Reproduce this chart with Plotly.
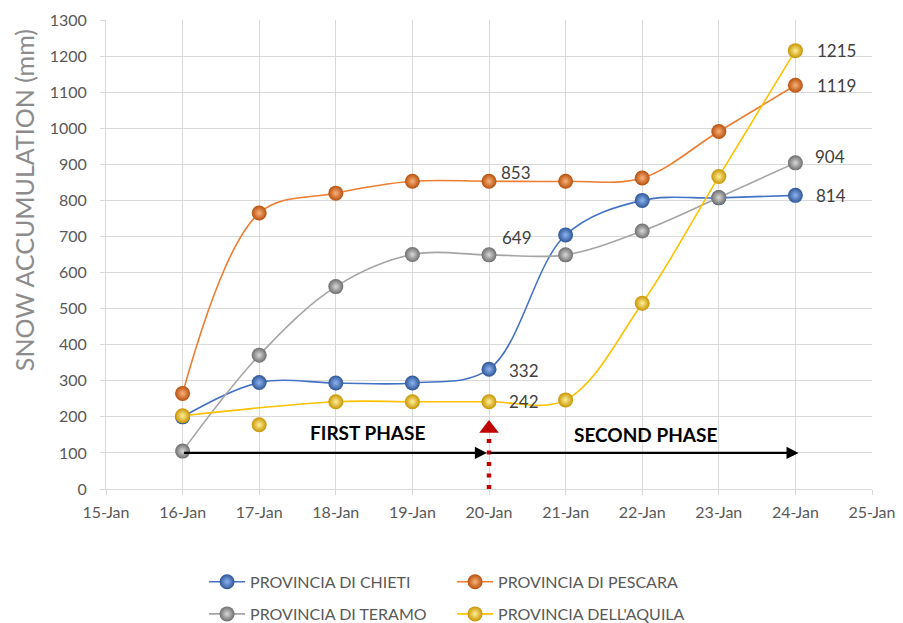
import plotly.graph_objects as go

# Daily snow accumulation (mm) in the four provinces of Abruzzo, January 2017
dates = ["2017-01-16", "2017-01-17", "2017-01-18", "2017-01-19", "2017-01-20",
         "2017-01-21", "2017-01-22", "2017-01-23", "2017-01-24"]
chieti = [200, 295, 294, 294, 332, 704, 800, 807, 814]
pescara = [265, 765, 820, 853, 853, 853, 862, 991, 1119]
teramo = [105, 371, 561, 650, 649, 649, 715, 808, 904]
aquila = [203, 178, 242, 242, 242, 247, 515, 866, 1215]
aquila_off_curve = ["2017-01-17"]  # reading shown as a marker only

series = [
    ("PROVINCIA DI CHIETI", chieti, "#4472C4", "#2E5597", "#8FB4F0", "legend"),
    ("PROVINCIA DI PESCARA", pescara, "#ED7D31", "#B84F0B", "#F8B27C", "legend"),
    ("PROVINCIA DI TERAMO", teramo, "#A5A5A5", "#6E6E6E", "#D8D8D8", "legend2"),
    ("PROVINCIA DELL'AQUILA", aquila, "#FFC000", "#C99400", "#FFF09A", "legend2"),
]

# value labels: (series values, date, xshift, yshift)
labels = [
    (pescara, "2017-01-20", 10, 9),
    (teramo, "2017-01-20", 11, 17),
    (chieti, "2017-01-20", 18, -1),
    (aquila, "2017-01-20", 18, 0),
    (aquila, "2017-01-24", 20, 0),
    (pescara, "2017-01-24", 20, 0),
    (teramo, "2017-01-24", 18, 6),
    (chieti, "2017-01-24", 19, 0),
]

FONT = "Lato"
fig = go.Figure()

for name, vals, color, edge, light, leg in series:
    if vals is aquila:
        ys = [None if d in aquila_off_curve else v for d, v in zip(dates, vals)]
    else:
        ys = vals
    fig.add_trace(go.Scatter(
        x=dates, y=ys, name=name, mode="lines+markers", connectgaps=True,
        line=dict(color=color, width=1.6, shape="spline", smoothing=1.0),
        marker=dict(size=15, color=edge, line=dict(width=0),
                    gradient=dict(type="radial", color=light)),
        legend=leg,
    ))
    if vals is aquila:
        extra = [(d, v) for d, v in zip(dates, vals) if d in aquila_off_curve]
        fig.add_trace(go.Scatter(
            x=[d for d, _ in extra], y=[v for _, v in extra], mode="markers",
            marker=dict(size=15, color=edge, line=dict(width=0),
                        gradient=dict(type="radial", color=light)),
            showlegend=False, hoverinfo="skip",
        ))

annotations = []
for vals, d, xs, ys in labels:
    v = vals[dates.index(d)]
    annotations.append(dict(
        x=d, y=v, xref="x", yref="y", text=str(v), showarrow=False,
        xanchor="left", yanchor="middle", xshift=xs, yshift=ys,
        font=dict(family=FONT, size=17, color="#404040"),
    ))

# phase arrows along the 100 mm line
phase_y = 100
annotations += [
    dict(x="2017-01-20", y=phase_y, ax="2017-01-16", ay=phase_y, xref="x", yref="y",
         axref="x", ayref="y", showarrow=True, arrowhead=2, arrowsize=1.1,
         arrowwidth=2.2, arrowcolor="#000000", standoff=2, text=""),
    dict(x="2017-01-24 01:00", y=phase_y, ax="2017-01-20", ay=phase_y, xref="x", yref="y",
         axref="x", ayref="y", showarrow=True, arrowhead=2, arrowsize=1.1,
         arrowwidth=2.2, arrowcolor="#000000", standoff=0, text=""),
    dict(x="2017-01-18 10:00", y=158, xref="x", yref="y", text="<b>FIRST PHASE</b>",
         showarrow=False, font=dict(family=FONT, size=19, color="#000000")),
    dict(x="2017-01-22 01:00", y=152, xref="x", yref="y", text="<b>SECOND PHASE</b>",
         showarrow=False, font=dict(family=FONT, size=19, color="#000000")),
    # vertical axis title, placed as free text
    dict(x=-0.107, y=0.616, xref="paper", yref="paper", text="SNOW ACCUMULATION (mm)",
         textangle=-90, showarrow=False, xanchor="center", yanchor="middle",
         font=dict(family=FONT, size=25, color="#8C8C8C")),
]

fig.update_layout(annotations=annotations)

# red dotted marker of the phase change
fig.add_shape(type="line", xref="x", yref="y", x0="2017-01-20", x1="2017-01-20",
              y0=0, y1=160, line=dict(color="#C00000", width=4.5, dash="4px,7.5px"))
fig.add_trace(go.Scatter(
    x=["2017-01-20"], y=[168], mode="markers", showlegend=False, hoverinfo="skip",
    marker=dict(symbol="triangle-up", size=17, color="#C00000", line=dict(width=0)),
))

grid = "#D9D9D9"
fig.update_xaxes(
    type="date", range=["2017-01-15", "2017-01-25"], dtick=86400000,
    tick0="2017-01-15", tickformat="%-d-%b", showgrid=True, gridcolor=grid,
    gridwidth=1, ticks="outside", ticklen=5, tickcolor=grid, showline=True,
    linecolor=grid, mirror=False, zeroline=False, ticklabelstandoff=4,
    tickfont=dict(family=FONT, size=16, color="#595959"),
)
fig.update_yaxes(
    range=[0, 1300], dtick=100, showgrid=True, gridcolor=grid, gridwidth=1,
    ticks="outside", ticklen=5, tickcolor=grid, showline=True, linecolor=grid,
    zeroline=False, ticklabelstandoff=10,
    tickfont=dict(family=FONT, size=16, color="#595959"),
)

legend_common = dict(
    orientation="h", xanchor="left", yanchor="middle", itemwidth=36,
    entrywidth=197, entrywidthmode="pixels", bgcolor="rgba(0,0,0,0)",
    font=dict(family=FONT, size=16, color="#595959"), traceorder="normal",
)
fig.update_layout(
    width=903, height=623,
    margin=dict(l=106, r=31, t=20, b=134, autoexpand=False),
    paper_bgcolor="white", plot_bgcolor="white",
    legend=dict(x=0.128, y=-0.198, **legend_common),
    legend2=dict(x=0.128, y=-0.2665, **legend_common),
)

fig.write_html("out.html")
